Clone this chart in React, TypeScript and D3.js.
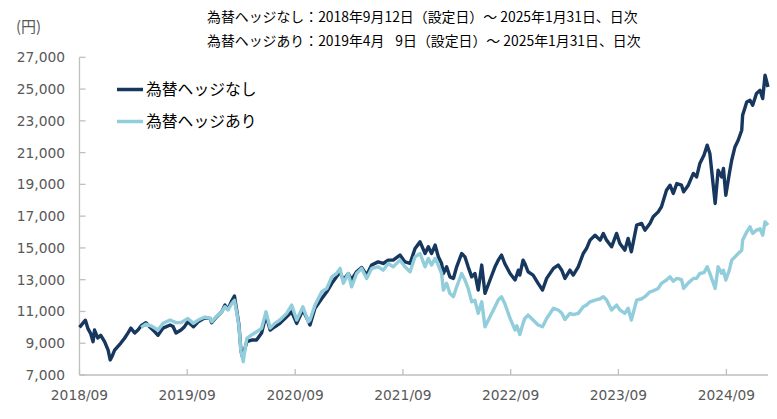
import React from "react";
import * as d3 from "d3";

const W = 777;
const H = 419;

const titleLines = [
  "為替ヘッジなし：2018年9月12日（設定日）～ 2025年1月31日、日次",
  "為替ヘッジあり：2019年4月\u2007 9日（設定日）～ 2025年1月31日、日次",
];
const unitLabel = "(円)";
const seriesNames = ["為替ヘッジなし", "為替ヘッジあり"];
const yTicks = [7000, 9000, 11000, 13000, 15000, 17000, 19000, 21000, 23000, 25000, 27000];
const xTickDates = ["2018-09-12", "2019-09-12", "2020-09-12", "2021-09-12", "2022-09-12", "2023-09-12", "2024-09-12"];
const xTickLabels = ["2018/09", "2019/09", "2020/09", "2021/09", "2022/09", "2023/09", "2024/09"];

// 為替ヘッジなし
const unhedgedDates = [
  "2018-09-12","2018-10-02","2018-10-11","2018-10-20","2018-10-28","2018-11-02","2018-11-13","2018-11-23",
  "2018-12-06","2018-12-18","2018-12-25","2019-01-01","2019-01-09","2019-01-30","2019-02-11","2019-02-23",
  "2019-03-05","2019-03-18","2019-03-29","2019-04-09","2019-04-25","2019-05-12","2019-05-26","2019-06-05",
  "2019-06-22","2019-07-16","2019-07-26","2019-08-05","2019-08-22","2019-09-01","2019-09-14","2019-10-03",
  "2019-10-19","2019-11-11","2019-11-28","2019-12-04","2019-12-21","2020-01-07","2020-01-18","2020-01-28",
  "2020-02-10","2020-02-19","2020-02-28","2020-03-05","2020-03-12","2020-03-16","2020-03-23","2020-04-01",
  "2020-04-17","2020-05-04","2020-05-21","2020-06-05","2020-06-19","2020-07-05","2020-07-22","2020-08-14",
  "2020-08-31","2020-09-17","2020-10-08","2020-10-26","2020-11-01","2020-11-18","2020-12-11","2020-12-28",
  "2021-01-14","2021-01-30","2021-02-11","2021-02-22","2021-03-11","2021-03-22","2021-04-08","2021-04-25",
  "2021-05-12","2021-05-29","2021-06-20","2021-07-07","2021-07-24","2021-08-10","2021-09-02","2021-09-19",
  "2021-10-06","2021-10-23","2021-11-09","2021-11-26","2021-12-07","2021-12-18","2021-12-30","2022-01-10",
  "2022-01-21","2022-01-27","2022-02-07","2022-02-18","2022-03-02","2022-03-13","2022-03-30","2022-04-10",
  "2022-04-21","2022-05-03","2022-05-14","2022-05-25","2022-06-06","2022-06-17","2022-07-04","2022-07-21",
  "2022-08-01","2022-08-12","2022-08-23","2022-09-10","2022-09-27","2022-10-08","2022-10-13","2022-10-24",
  "2022-10-30","2022-11-10","2022-11-27","2022-12-14","2022-12-29","2023-01-12","2023-02-04","2023-02-20",
  "2023-03-04","2023-03-15","2023-04-01","2023-04-12","2023-04-29","2023-05-16","2023-05-27","2023-06-08",
  "2023-06-25","2023-07-12","2023-07-23","2023-08-03","2023-08-20","2023-09-06","2023-09-17","2023-10-04",
  "2023-10-15","2023-10-26","2023-11-13","2023-11-30","2023-12-11","2023-12-28","2024-01-08","2024-01-25",
  "2024-02-05","2024-02-22","2024-03-05","2024-03-16","2024-03-28","2024-04-13","2024-04-20","2024-05-06",
  "2024-05-23","2024-06-03","2024-06-14","2024-06-28","2024-07-09","2024-07-18","2024-07-24","2024-08-05",
  "2024-08-15","2024-08-27","2024-09-02","2024-09-10","2024-09-22","2024-09-30","2024-10-11","2024-10-22",
  "2024-11-03","2024-11-06","2024-11-20","2024-12-01","2024-12-10","2024-12-23","2025-01-04","2025-01-13",
  "2025-01-21","2025-01-31",
];
const unhedgedValues = [
  10000,10450,9900,9600,9100,9830,9330,9500,
  9100,8570,7950,8200,8570,9010,9300,9640,
  9950,9640,9830,10100,10290,9950,9700,9500,
  9950,10150,10050,9640,9830,10000,10350,10040,
  10350,10600,10560,10290,10670,10980,11400,11130,
  11670,11970,10900,10200,8570,8200,8500,9100,
  9200,9200,9640,10770,9830,10040,10250,10670,
  10980,10250,11090,10400,10150,11200,11820,12240,
  12770,13180,13500,12980,13390,13000,13500,13770,
  13290,13920,14120,14020,14230,14230,14550,14120,
  14020,14960,15380,14650,15070,14650,15180,14440,
  14020,13390,13810,13180,13080,13810,14650,14440,
  13810,13180,13390,12350,13920,12140,12980,13810,
  14230,14550,14020,13390,12980,13600,13290,14230,
  14020,13500,13290,12770,12350,13080,13710,13920,
  13600,13080,13600,13290,13810,14650,14960,15490,
  15800,15490,15910,15490,15070,15910,15280,14860,
  15600,14760,16430,16540,16120,16540,16960,17270,
  17590,18630,18950,18430,19050,18950,18530,18950,
  19690,19470,20310,20840,21470,20940,19890,17800,
  19890,19470,20000,18320,19690,20520,21360,21780,
  22410,23350,24190,24300,23980,24720,24920,24400,
  25870,25130,
];

// 為替ヘッジあり
const hedgedDates = [
  "2019-04-09","2019-04-25","2019-05-12","2019-06-05","2019-06-22","2019-07-16","2019-08-05","2019-08-22",
  "2019-09-14","2019-10-03","2019-10-19","2019-11-11","2019-11-28","2019-12-04","2019-12-21","2020-01-07",
  "2020-01-18","2020-01-28","2020-02-10","2020-02-19","2020-02-28","2020-03-05","2020-03-12","2020-03-20",
  "2020-03-23","2020-04-01","2020-04-17","2020-05-04","2020-05-21","2020-06-05","2020-06-19","2020-07-05",
  "2020-07-22","2020-08-14","2020-08-31","2020-09-17","2020-10-08","2020-10-26","2020-11-01","2020-11-18",
  "2020-12-11","2020-12-28","2021-01-14","2021-01-30","2021-02-11","2021-02-22","2021-03-11","2021-03-22",
  "2021-04-08","2021-04-25","2021-05-12","2021-05-29","2021-06-20","2021-07-07","2021-07-24","2021-08-10",
  "2021-09-02","2021-09-19","2021-10-06","2021-10-23","2021-11-09","2021-11-26","2021-12-07","2021-12-18",
  "2021-12-30","2022-01-10","2022-01-21","2022-01-27","2022-02-07","2022-02-18","2022-03-02","2022-03-13",
  "2022-03-30","2022-04-10","2022-04-21","2022-05-03","2022-05-14","2022-05-25","2022-06-06","2022-06-17",
  "2022-07-04","2022-07-21","2022-08-01","2022-08-12","2022-08-23","2022-09-10","2022-09-27","2022-10-03",
  "2022-10-13","2022-10-24","2022-10-30","2022-11-10","2022-11-27","2022-12-14","2022-12-29","2023-01-12",
  "2023-02-04","2023-02-20","2023-03-04","2023-03-15","2023-04-01","2023-04-12","2023-04-29","2023-05-16",
  "2023-05-27","2023-06-08","2023-06-25","2023-07-12","2023-07-23","2023-08-03","2023-08-20","2023-09-06",
  "2023-09-17","2023-10-04","2023-10-15","2023-10-26","2023-11-13","2023-11-30","2023-12-11","2023-12-28",
  "2024-01-08","2024-01-25","2024-02-05","2024-02-22","2024-03-05","2024-03-16","2024-03-28","2024-04-13",
  "2024-04-20","2024-05-06","2024-05-23","2024-06-03","2024-06-14","2024-06-28","2024-07-09","2024-07-18",
  "2024-07-24","2024-08-05","2024-08-15","2024-08-27","2024-09-02","2024-09-10","2024-09-22","2024-09-30",
  "2024-10-11","2024-10-22","2024-11-03","2024-11-06","2024-11-20","2024-12-01","2024-12-10","2024-12-23",
  "2025-01-04","2025-01-13","2025-01-21","2025-01-31",
];
const hedgedValues = [
  10000,10200,10100,9830,10250,10460,10300,10300,
  10560,10250,10460,10650,10560,10350,10700,10980,
  11300,11100,11500,11700,10800,10100,8500,7840,
  8300,9300,9520,9720,9940,10980,9950,10250,
  10460,10880,11400,10460,11300,10350,10460,11400,
  12240,12450,13180,13390,13710,12770,13390,12550,
  13390,13710,13080,13710,13810,13600,14020,13810,
  14230,13810,13500,14440,14650,13810,14340,13920,
  14340,13900,13390,12350,12770,12140,11930,12550,
  13390,12980,12450,11610,11700,10880,11610,10040,
  10670,11300,11720,11930,11500,10560,9830,10100,
  9550,10250,10560,10770,10460,10150,10040,10560,
  11200,11090,10900,10500,10880,10800,10880,11300,
  11400,11610,11720,11800,11930,11720,11090,11400,
  11100,10880,11200,10460,11720,11800,11930,12240,
  12300,12450,12770,12980,13180,12900,13080,13000,
  12450,12800,13080,13080,13390,13450,13810,13400,
  13080,12450,13810,13400,13600,12980,13600,14230,
  14440,14650,14860,15490,16010,16330,15910,16120,
  16200,15800,16640,16430,
];

const colors = ["#17375E", "#92CDDC"];
const parse = d3.timeParse("%Y-%m-%d");

export default function App() {
  const left = 79.5;
  const right = 768;
  const top = 57.3;
  const bottom = 375;

  const x = d3
    .scaleTime()
    .domain([parse("2018-09-12") as Date, parse("2025-01-31") as Date])
    .range([left, right]);
  const y = d3.scaleLinear().domain([7000, 27000]).range([bottom, top]);

  const line = d3
    .line<[string, number]>()
    .x((d) => x(parse(d[0]) as Date))
    .y((d) => y(d[1]));

  const unhedged = unhedgedDates.map((d, i) => [d, unhedgedValues[i]] as [string, number]);
  const hedged = hedgedDates.map((d, i) => [d, hedgedValues[i]] as [string, number]);

  const axisColor = "#BFBFBF";
  const labelColor = "#595959";
  const jp = "'Noto Sans CJK JP', 'Noto Sans', sans-serif";
  const num = "'DejaVu Sans', Verdana, sans-serif";
  const fmt = d3.format(",");

  return (
    <svg
      width={W}
      height={H}
      style={{ position: "fixed", left: 0, top: 0, background: "#fff" }}
    >
      {titleLines.map((t, i) => (
        <text
          key={i}
          x={207}
          y={22 + i * 24}
          fontFamily={jp}
          fontSize={13.9}
          fill="#000"
          style={{ whiteSpace: "pre" }}
        >
          {t}
        </text>
      ))}
      <text x={16} y={32} fontFamily={jp} fontSize={15} fill={labelColor}>
        {unitLabel}
      </text>

      {/* axes */}
      <line x1={left} x2={left} y1={top} y2={bottom} stroke={axisColor} strokeWidth={1.3} />
      <line x1={left} x2={right} y1={bottom} y2={bottom} stroke={axisColor} strokeWidth={1.3} />
      {yTicks.map((t) => (
        <g key={t}>
          <line x1={left} x2={left + 6} y1={y(t)} y2={y(t)} stroke={axisColor} strokeWidth={1.3} />
          <text
            x={65}
            y={y(t)}
            dy="0.36em"
            textAnchor="end"
            fontFamily={num}
            fontSize={13.8}
            fill={labelColor}
          >
            {fmt(t)}
          </text>
        </g>
      ))}
      {xTickDates.map((d, i) => {
        const px = x(parse(d) as Date);
        return (
          <g key={d}>
            <line x1={px} x2={px} y1={bottom} y2={bottom - 6} stroke={axisColor} strokeWidth={1.3} />
            <text
              x={px}
              y={400}
              textAnchor="middle"
              fontFamily={num}
              fontSize={13.8}
              fill={labelColor}
            >
              {xTickLabels[i]}
            </text>
          </g>
        );
      })}

      {/* series */}
      <path d={line(unhedged) || ""} fill="none" stroke={colors[0]} strokeWidth={3.4} strokeLinejoin="round" />
      <path d={line(hedged) || ""} fill="none" stroke={colors[1]} strokeWidth={3.4} strokeLinejoin="round" />

      {/* legend */}
      {seriesNames.map((n, i) => (
        <g key={n}>
          <line
            x1={117}
            x2={143}
            y1={89.5 + i * 32}
            y2={89.5 + i * 32}
            stroke={colors[i]}
            strokeWidth={3.5}
          />
          <text
            x={146}
            y={89.5 + i * 32}
            dy="0.36em"
            fontFamily={jp}
            fontSize={15.8}
            fill="#000"
          >
            {n}
          </text>
        </g>
      ))}
    </svg>
  );
}
